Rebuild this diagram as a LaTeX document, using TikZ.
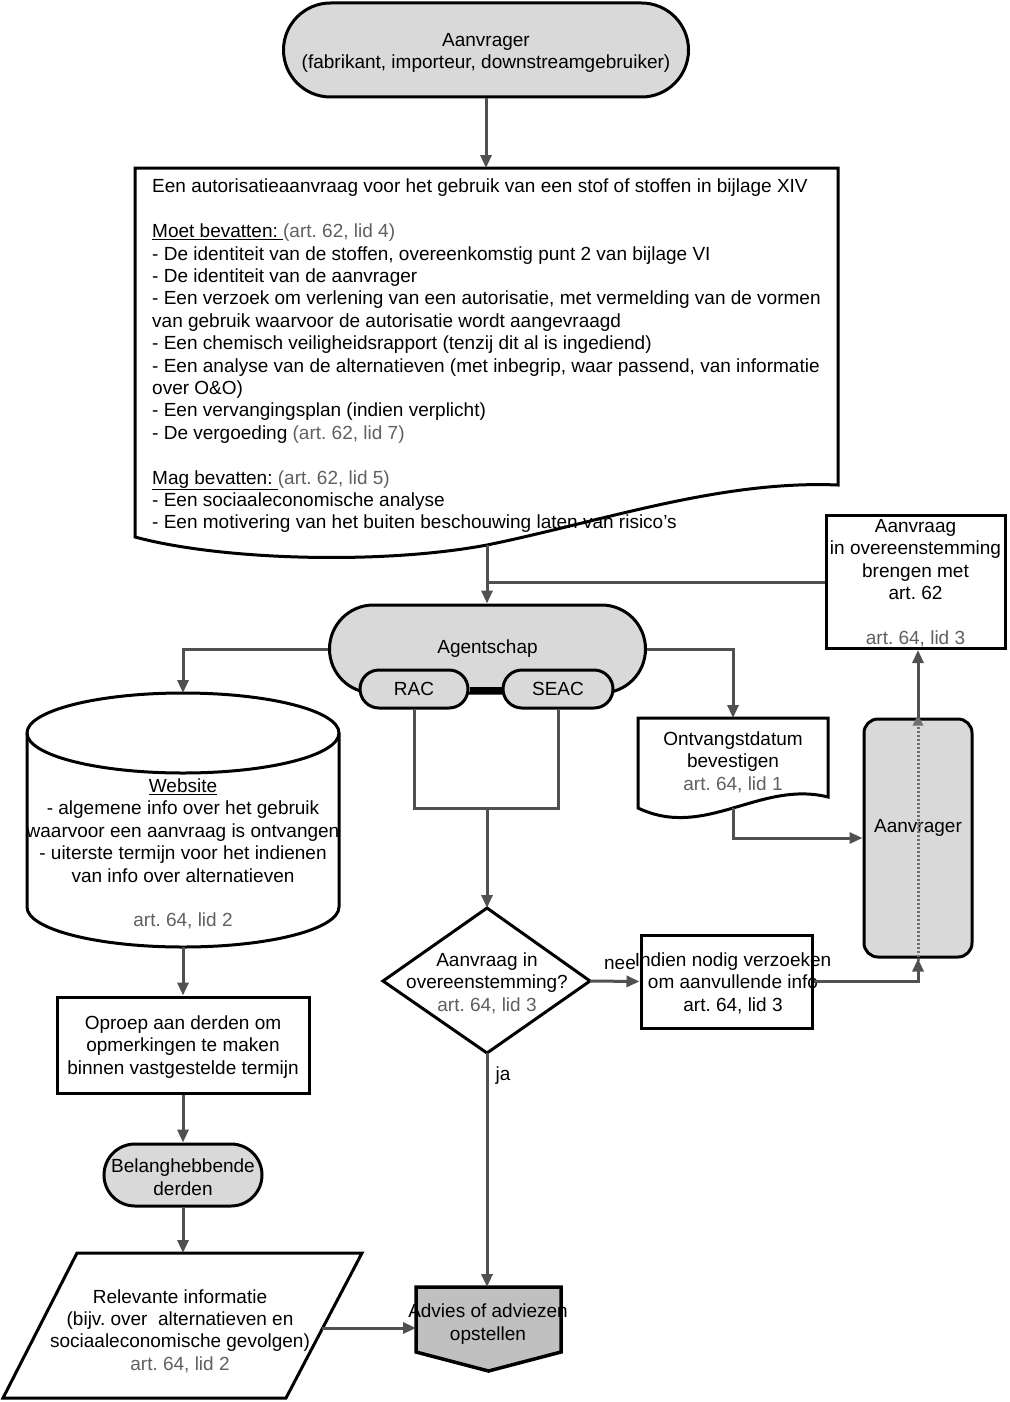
\documentclass[tikz,border=0pt]{standalone}
\usepackage{fontspec}
\setmainfont{Liberation Sans}
\usetikzlibrary{arrows.meta}
\definecolor{linegray}{HTML}{505050}
\definecolor{dotgray}{HTML}{707070}
\definecolor{artgray}{HTML}{606060}
\definecolor{fillgray}{HTML}{D9D9D9}
\definecolor{darkfill}{HTML}{C0C0C0}
\begin{document}
\frenchspacing
\begin{tikzpicture}[x=1pt,y=-1pt,
  every node/.style={font=\fontsize{19}{22.4}\selectfont\frenchspacing, inner sep=0pt, align=center},
  conn/.style={draw=linegray, line width=3pt, -{Triangle[length=13pt,width=11pt]}},
  lineonly/.style={draw=linegray, line width=3pt},
  outline/.style={draw=black, line width=3pt},
  boxnode/.style={outline, fill=white, rectangle},
  pill/.style={outline, fill=fillgray, rectangle},
]
\fill[white] (0,0) rectangle (1009,1402);
\useasboundingbox (0,0) rectangle (1009,1402);

% ---------- top terminator
\node[pill, minimum width=405pt, minimum height=94pt, rounded corners=47pt] (start) at (486,50) {};
\node (starttext) at (486,53) {Aanvrager\\(fabrikant, importeur, downstreamgebruiker)};

% ---------- document
\coordinate (doctop) at (486,168);
\coordinate (docbot) at (487,545);
\fill[white] (135,168) -- (838,168) -- (838,485) .. controls (720,480) and (600,522) .. (docbot)
  .. controls (380,565) and (220,560) .. (135,537) -- cycle;
\node[anchor=north west, align=left] (doctext) at (152,179) {%
Een autorisatieaanvraag voor het gebruik van een stof of stoffen in bijlage XIV\\[22.4pt]
\underline{Moet bevatten: }\textcolor{artgray}{(art. 62, lid 4)}\\
- De identiteit van de stoffen, overeenkomstig punt 2 van bijlage VI\\
- De identiteit van de aanvrager\\
- Een verzoek om verlening van een autorisatie, met vermelding van de vormen\\
van gebruik waarvoor de autorisatie wordt aangevraagd\\
- Een chemisch veiligheidsrapport (tenzij dit al is ingediend)\\
- Een analyse van de alternatieven (met inbegrip, waar passend, van informatie\\
over O\&O)\\
- Een vervangingsplan (indien verplicht)\\
- De vergoeding \textcolor{artgray}{(art. 62, lid 7)}\\[22.4pt]
\underline{Mag bevatten: }\textcolor{artgray}{(art. 62, lid 5)}\\
- Een sociaaleconomische analyse\\
- Een motivering van het buiten beschouwing laten van risico’s};
\draw[outline] (135,168) -- (838,168) -- (838,485) .. controls (720,480) and (600,522) .. (docbot)
  .. controls (380,565) and (220,560) .. (135,537) -- cycle;
\draw[conn] (start.south) -- (doctop);

% ---------- Agentschap
\node[pill, minimum width=316pt, minimum height=88pt, rounded corners=44pt] (agent) at (487.5,649) {Agentschap};
\node[pill, minimum width=108pt, minimum height=38pt, rounded corners=19pt] (rac) at (414,689) {RAC};
\node[pill, minimum width=110pt, minimum height=38pt, rounded corners=19pt] (seac) at (558,689) {SEAC};
\draw[black, line width=5pt] (rac.east) -- (seac.west);
\draw[conn] (docbot) -- (docbot |- agent.north);

% ---------- Aanvraag in overeenstemming brengen
\node[boxnode, minimum width=179pt, minimum height=133pt] (fix) at (915.5,582) {};
\node (fixtext) at (915.5,583) {Aanvraag\\in overeenstemming\\brengen met\\art. 62\\[22.4pt]\textcolor{artgray}{art. 64, lid 3}};
\draw[lineonly] (fix.west) -- (fix.west -| docbot);

% ---------- RAC/SEAC merge to decision
\coordinate (merge) at (487,808);
\draw[lineonly] (rac.south) -- (rac.south |- merge) -- (seac.south |- merge) -- (seac.south);

% ---------- decision
\coordinate (diatop) at (487,908);
\coordinate (diaright) at (590,981);
\coordinate (diabot) at (487,1053);
\coordinate (dialeft) at (383,981);
\draw[outline, fill=white] (diatop) -- (diaright) -- (diabot) -- (dialeft) -- cycle;
\node (dia) at (487,983) {Aanvraag in\\overeenstemming?\\\textcolor{artgray}{art. 64, lid 3}};
\draw[conn] (merge) -- (diatop);

% ---------- request extra info
\node[boxnode, minimum width=171pt, minimum height=93pt] (req) at (726.5,981.5) {};
\node (reqtext) at (733,983) {Indien nodig verzoeken\\om aanvullende info\\art. 64, lid 3};
\draw[conn] (diaright) -- (req.west);
\node (nee) at (620,964) {nee};

% ---------- right Aanvrager
\node[pill, minimum width=108pt, minimum height=238pt, rounded corners=14pt] (aanv) at (918,838) {};
\node (aanvtext) at (918,828) {Aanvrager};
\draw[draw=dotgray, line width=3pt, dash pattern=on 2pt off 2pt, -{Triangle[length=11pt,width=10pt]}]
  ([yshift=-2pt]aanv.south) -- ([yshift=3pt]aanv.north);
\draw[conn] (aanv.north) -- (aanv.north |- fix.south);
\draw[conn] (req.east) -- (req.east -| aanv.south) -- (aanv.south);

% ---------- Ontvangstdatum
\coordinate (ontop) at (733,718);
\coordinate (ontbot) at (733,808);
\draw[outline, fill=white] (638,718) -- (828,718) -- (828,797) .. controls (760,780) and (705,840) .. (638,808) -- cycle;
\node (ont) at (733,762) {Ontvangstdatum\\bevestigen\\\textcolor{artgray}{art. 64, lid 1}};
\draw[conn] (agent.east) -- (agent.east -| ontop) -- (ontop);
\draw[conn] (ontbot) -- (ontbot |- aanv.west) -- (aanv.west);

% ---------- Website cylinder
\coordinate (webtop) at (183,693);
\coordinate (webbot) at (183,947);
\draw[outline, fill=white] (27,733) -- (27,907) .. controls (27,929.1) and (96.8,947) .. (webbot)
  .. controls (269.2,947) and (339,929.1) .. (339,907) -- (339,733)
  .. controls (339,710.9) and (269.2,693) .. (webtop) .. controls (96.8,693) and (27,710.9) .. (27,733) -- cycle;
\draw[outline] (27,733) .. controls (27,755.1) and (96.8,773) .. (183,773) .. controls (269.2,773) and (339,755.1) .. (339,733);
\node (web) at (183,854) {\underline{Website}\\- algemene info over het gebruik\\waarvoor een aanvraag is ontvangen\\- uiterste termijn voor het indienen\\van info over alternatieven\\[22.4pt]\textcolor{artgray}{art. 64, lid 2}};
\draw[conn] (agent.west) -- (agent.west -| webtop) -- (webtop);

% ---------- Oproep
\node[boxnode, minimum width=252pt, minimum height=96pt] (oproep) at (183,1045) {};
\node (oproeptext) at (183,1047) {Oproep aan derden om\\opmerkingen te maken\\binnen vastgestelde termijn};
\draw[conn] (webbot) -- (oproep.north);

% ---------- Belanghebbende derden
\node[pill, minimum width=158pt, minimum height=62pt, rounded corners=31pt] (belang) at (183,1175) {};
\node (belangtext) at (183,1177) {Belanghebbende\\derden};
\draw[conn] (oproep.south) -- (belang.north);

% ---------- Relevante informatie (parallelogram)
\coordinate (partop) at (183,1253);
\coordinate (parright) at (322,1328);
\draw[outline, fill=white] (77,1253) -- (362,1253) -- (286,1398) -- (3,1398) -- cycle;
\node (rel) at (180,1331) {Relevante informatie\\(bijv. over\ \ alternatieven en\\sociaaleconomische gevolgen)\\\textcolor{artgray}{art. 64, lid 2}};
\draw[conn] (belang.south) -- (partop);

% ---------- Advies
\coordinate (advtop) at (487,1287);
\coordinate (advleft) at (416,1328);
\draw[draw=black, line width=3.5pt, fill=darkfill] (416,1287) -- (561,1287) -- (561,1352) -- (488.5,1371) -- (416,1352) -- cycle;
\node (adv) at (488,1324) {Advies of adviezen\\opstellen};
\draw[conn] (diabot) -- (advtop);
\node (ja) at (503,1076) {ja};
\draw[conn] (parright) -- (advleft);
\end{tikzpicture}
\end{document}
